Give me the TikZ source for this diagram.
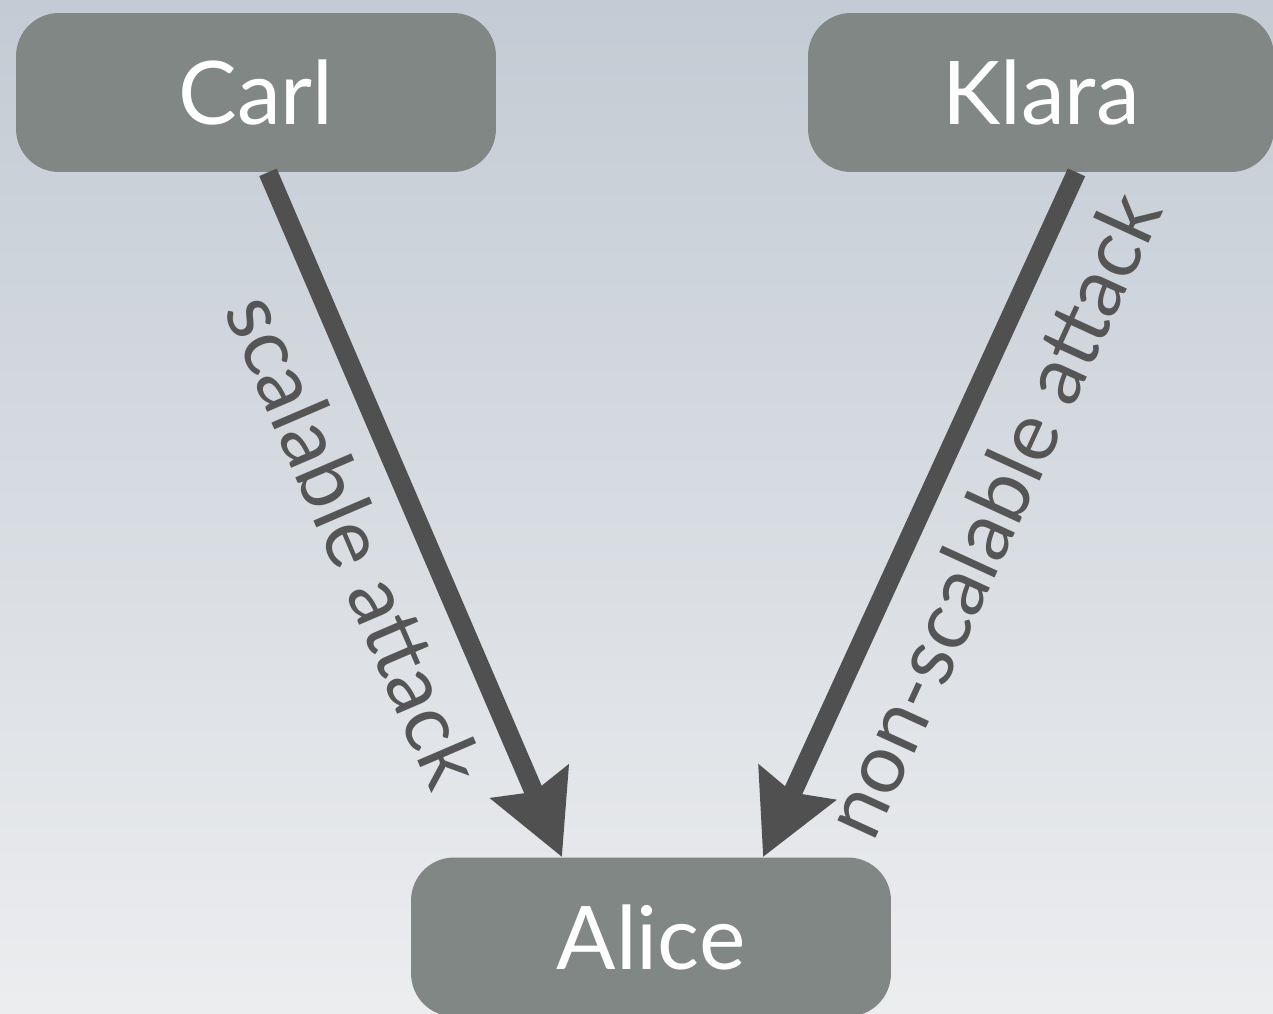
\documentclass[tikz,border=0pt]{standalone}
\usepackage{fontspec}
\setmainfont{Lato}
\usetikzlibrary{arrows.meta}
\definecolor{boxgray}{RGB}{129,135,132}
\definecolor{arrgray}{RGB}{80,80,80}
\definecolor{labgray}{RGB}{85,85,85}
\definecolor{bgtop}{RGB}{195,203,212}
\definecolor{bgbot}{RGB}{236,237,239}
\tikzset{
  person/.style={fill=boxgray, rounded corners=0.86cm, minimum width=9.6cm, minimum height=3.18cm,
    text=white, font=\fontsize{50}{60}\selectfont, inner sep=0pt},
  attackarrow/.style={draw=arrgray, line width=0.38cm,
    -{Stealth[length=1.62cm, width=1.64cm, inset=0.2cm]}},
  attacklabel/.style={sloped, below, text=labgray, font=\fontsize{47}{56}\selectfont, inner sep=14pt}
}
\begin{document}
\begin{tikzpicture}[x=0.02cm, y=-0.02cm]
\shade[top color=bgtop, bottom color=bgbot] (0,0) rectangle (1273,1013);
\useasboundingbox (0,0) rectangle (1273,1013);
\clip (0,0) rectangle (1273,1013);
\node[person] (carl) at (256,92.5) {Carl};
\node[person, minimum width=9.32cm] (klara) at (1041,92.5) {Klara};
\node[person] (alice) at (651,937) {Alice};
\draw[attackarrow] ([xshift=0.24cm]carl.south) -- ([xshift=-1.78cm]alice.north)
  node[attacklabel, pos=0.5] {scalable attack};
\draw[attackarrow] ([xshift=0.71cm]klara.south) -- ([xshift=2.24cm]alice.north)
  node[attacklabel, pos=0.46] {non-scalable attack};
\end{tikzpicture}
\end{document}
